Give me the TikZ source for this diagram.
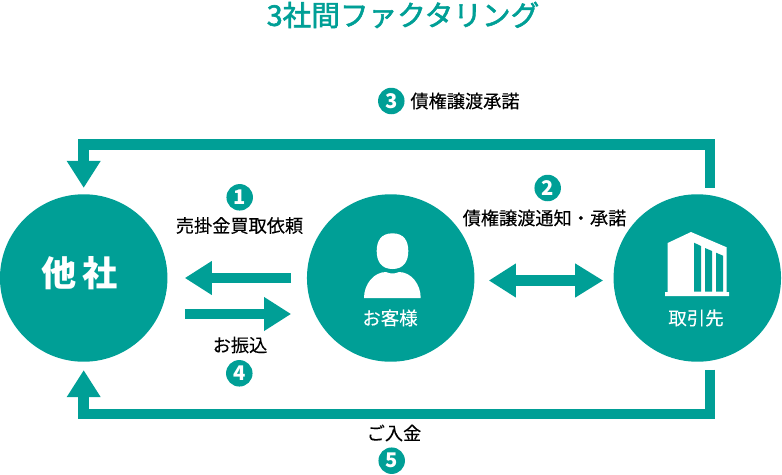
\documentclass[tikz,border=0pt]{standalone}
\usepackage{fontspec}
\setmainfont{Noto Sans CJK JP}
\newfontfamily\heavyfont[FakeBold=2]{Noto Sans CJK JP}
\newfontfamily\midfont[FakeBold=0.15]{Noto Sans CJK JP}
\usetikzlibrary{arrows.meta}
\definecolor{factorteal}{RGB}{0,159,150}
\tikzset{
    party/.style={circle, fill=factorteal, minimum size=3.35cm, inner sep=0pt},
    partylabel/.style={text=white, font=\midfont\fontsize{10.5}{10.5}\selectfont, inner sep=0pt},
    steplabel/.style={text=black, font=\midfont\fontsize{10.35}{10.35}\selectfont, inner sep=0pt},
    bigarrow/.style={draw=factorteal, line width=0.21cm, -{Triangle[length=0.54cm,width=0.64cm]}, fill=none},
    twoarrow/.style={draw=factorteal, line width=0.22cm, {Triangle[length=0.54cm,width=0.64cm]}-{Triangle[length=0.56cm,width=0.64cm]}},
    iconfill/.style={fill=white, draw=none},
    iconcut/.style={fill=factorteal, draw=none}
}
\newcommand{\stepmark}[4]{
    \node[circle, fill=factorteal, minimum size=0.53cm, inner sep=0pt, text=white, font=\fontsize{11.5}{11.5}\selectfont\bfseries] (#1) at (#2,#3) {#4};
}
\begin{document}
\begin{tikzpicture}[x=0.02cm, y=-0.02cm]
    \useasboundingbox (0,0) rectangle (782,474);
    \node[text=factorteal, inner sep=0pt, font=\heavyfont\fontsize{16.3}{16.3}\selectfont] (title) at (403,15) {3社間ファクタリング};
    \node[party] (other) at (83.7,278) {};
    \node[party] (customer) at (390.7,278) {};
    \node[party] (supplier) at (697.3,278) {};
    \node[text=white, inner sep=0pt, font=\fontsize{20}{20}\selectfont\bfseries] (otherlabel) at (80,273) {他\hspace{0.12cm}社};
    \node[partylabel] (customerlabel) at (390,318) {お客様};
    \node[partylabel] (supplierlabel) at (696,318) {取引先};
    \coordinate (topbend) at (83.7,144.5);
    \coordinate (bottombend) at (83.7,414);
    \draw[bigarrow, shorten <=0.12cm, shorten >=0.12cm] ([xshift=0.25cm]supplier.north) |- (topbend) -- (other.north);
    \draw[bigarrow, shorten <=0.15cm, shorten >=0.16cm] ([xshift=0.25cm]supplier.south) |- (bottombend) -- (other.south);
    \draw[bigarrow, shorten <=0.31cm, shorten >=0.34cm] (customer.west) -- (other.east);
    \draw[bigarrow, shorten <=0.34cm, shorten >=0.31cm] ([yshift=-0.72cm]other.east) -- ([yshift=-0.72cm]customer.west);
    \draw[twoarrow, shorten <=0.28cm, shorten >=0.2cm] ([yshift=-0.05cm]customer.east) -- ([yshift=-0.05cm]supplier.west);
    \stepmark{one}{239.7}{197.3}{1}
    \stepmark{two}{547.7}{188}{2}
    \stepmark{three}{391.3}{101}{3}
    \stepmark{four}{239.3}{373.3}{4}
    \stepmark{five}{391.7}{460.7}{5}
    \node[steplabel] (sell) at (239.5,225.5) {売掛金買取依頼};
    \node[steplabel] (notice) at (544.5,218) {債権譲渡通知・承諾};
    \node[steplabel] (consent) at (465,101) {債権譲渡承諾};
    \node[steplabel] (transfer) at (240,345) {お振込};
    \node[steplabel] (payment) at (394,433) {ご入金};
    \fill[iconfill] (392.5,233.3) .. controls (381,233.3) and (376.7,241) .. (376.7,251) .. controls (376.7,261) and (381,269) .. (392.5,269) .. controls (404,269) and (408.3,261) .. (408.3,251) .. controls (408.3,241) and (404,233.3) .. (392.5,233.3) -- cycle;
    \fill[iconfill] (364,298) .. controls (364,284) and (374,272) .. (386,272) .. controls (390,274) and (395,274) .. (399,272) .. controls (411,272) and (420.7,284) .. (420.7,298) -- cycle;
    \fill[iconfill] (667.7,243) -- (691,232) -- (726.7,247.3) -- (726.7,292) -- (729,292) -- (729,296) -- (665,296) -- (665,292) -- (667.7,292) -- cycle;
    \fill[iconcut] (694,242.7) -- (701,246) -- (701,291.5) -- (694,291.5) -- cycle;
    \fill[iconcut] (705,248) -- (712,251) -- (712,291.5) -- (705,291.5) -- cycle;
    \fill[iconcut] (716,252.7) -- (723,255.7) -- (723,291.5) -- (716,291.5) -- cycle;
\end{tikzpicture}
\end{document}
